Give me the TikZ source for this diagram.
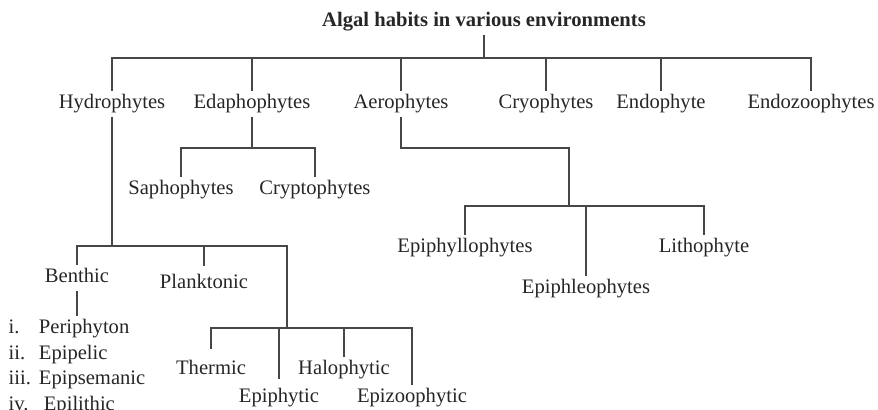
\documentclass[tikz,border=0pt]{standalone}
\usepackage{fontspec}
\setmainfont{Liberation Serif}
\begin{document}
\begin{tikzpicture}[x=0.5pt, y=-0.5pt, line width=0.6pt, draw=black!72,
	habit/.style={anchor=base, inner sep=1.5pt, text height=7pt, text depth=2pt, text=black!85, font=\fontsize{10.3pt}{12.75pt}\selectfont}]
	\useasboundingbox (0,0) rectangle (878,410);
	\node[habit, font=\fontsize{10.3pt}{12.75pt}\selectfont\bfseries] (title) at (484,27) {Algal habits in various environments};
	\node[habit] (hyd) at (112,109) {Hydrophytes};
	\node[habit] (eda) at (252,109) {Edaphophytes};
	\node[habit] (aer) at (401,109) {Aerophytes};
	\node[habit] (cry) at (546,109) {Cryophytes};
	\node[habit] (endo) at (661,109) {Endophyte};
	\node[habit] (endoz) at (811,109) {Endozoophytes};
	\node[habit] (sapho) at (181,195) {Saphophytes};
	\node[habit] (crypto) at (315,195) {Cryptophytes};
	\node[habit] (epiphyl) at (465,253) {Epiphyllophytes};
	\node[habit] (epiphle) at (586,294) {Epiphleophytes};
	\node[habit] (litho) at (704,253) {Lithophyte};
	\node[habit] (benthic) at (77,283) {Benthic};
	\node[habit] (plank) at (204,289) {Planktonic};
	\node[habit] (thermic) at (211,375) {Thermic};
	\node[habit] (epiphy) at (279,403) {Epiphytic};
	\node[habit] (halo) at (344,375) {Halophytic};
	\node[habit] (epizoo) at (412,403) {Epizoophytic};
	\node[habit, anchor=base west, inner sep=0pt, text height=, text depth=] (list) at (8,334)
		{\begin{tabular}[t]{@{}l@{\hspace{4pt}}l@{}}
		i. & Periphyton\\
		ii. & Epipelic\\
		iii. & Epipsemanic\\
		iv. & \hspace{2.5pt}Epilithic
		\end{tabular}};
	% bars
	\coordinate (top) at (title.south |- 0,58);
	\coordinate (edabar) at (eda.south |- 0,148);
	\coordinate (aerbar) at (569,206);
	\coordinate (hydbar) at (112,246);
	\coordinate (habbar) at (287,328);
	\draw (title) -- (top);
	\foreach \n in {hyd,eda,aer,cry,endo,endoz}
		\draw (top) -| (\n.north);
	\draw (eda) -- (edabar);
	\draw (edabar) -| (sapho.north);
	\draw (edabar) -| (crypto.north);
	\draw (aer) -- ++(0,44) -| (aerbar);
	\foreach \n in {epiphyl,epiphle,litho}
		\draw (aerbar) -| (\n.north);
	\draw (hyd) -- (hydbar);
	\draw (hydbar) -| (benthic.north);
	\draw[shorten >=2.5pt] (hydbar) -| (plank.north);
	\draw (hydbar) -| (habbar);
	\draw (benthic) -- (benthic.south |- list.north);
	\draw[shorten >=4pt] (habbar) -| (thermic.north);
	\draw[shorten >=3pt] (habbar) -| (epiphy.north);
	\draw (habbar) -| (halo.north);
	\draw (habbar) -| (epizoo.north);
\end{tikzpicture}
\end{document}
